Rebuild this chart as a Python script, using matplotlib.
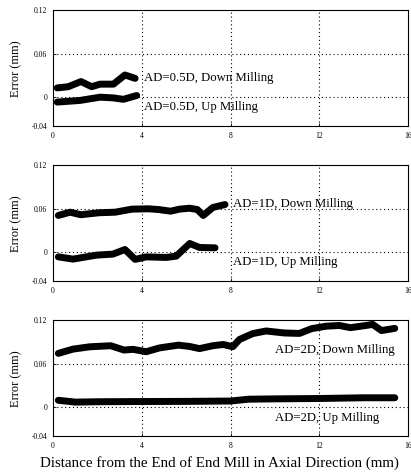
import matplotlib
matplotlib.use("Agg")
import matplotlib.pyplot as plt

# ---- Datos -------------------------------------------------------------------
x_05_down = [0.19, 0.69, 1.26, 1.74, 2.12, 2.72, 3.24, 3.7]
y_05_down = [0.0128, 0.0145, 0.0216, 0.0145, 0.018, 0.018, 0.0307, 0.026]
x_05_up = [0.19, 1.22, 2.12, 2.72, 3.17, 3.77]
y_05_up = [-0.0068, -0.0045, 0.0, -0.001, -0.003, 0.0023]

x_1_down = [0.24, 0.77, 1.25, 2.07, 2.8, 3.55, 4.3, 4.75, 5.3, 5.7, 6.15, 6.5, 6.77, 7.2, 7.75]
y_1_down = [0.0508, 0.0553, 0.0518, 0.0545, 0.0553, 0.0595, 0.06, 0.059, 0.0567,
            0.0595, 0.0608, 0.059, 0.0508, 0.0618, 0.0659]
x_1_up = [0.24, 0.9, 1.96, 2.7, 3.24, 3.7, 4.2, 5.1, 5.55, 6.16, 6.6, 7.3]
y_1_up = [-0.0065, -0.0096, -0.0041, -0.0027, 0.0037, -0.010, -0.0065, -0.0073,
          -0.0055, 0.012, 0.0065, 0.006]

x_2_down = [0.24, 0.9, 1.65, 2.6, 3.2, 3.6, 4.2, 4.8, 5.65, 6.15, 6.6, 7.2, 7.67, 8.1,
            8.4, 9.0, 9.6, 10.4, 11.1, 11.65, 12.3, 12.9, 13.4, 14.1, 14.4, 14.8, 15.4]
y_2_down = [0.0744, 0.0803, 0.0835, 0.085, 0.079, 0.080, 0.0767, 0.082, 0.0858, 0.084,
            0.081, 0.085, 0.0867, 0.0836, 0.0936, 0.1018, 0.1054, 0.1027, 0.102, 0.1086,
            0.112, 0.113, 0.110, 0.113, 0.1145, 0.106, 0.109]
x_2_up = [0.24, 1.0, 2.0, 4.0, 6.0, 8.0, 8.8, 10.0, 12.0, 14.0, 15.4]
y_2_up = [0.0095, 0.007, 0.0075, 0.0078, 0.008, 0.0085, 0.011, 0.0115, 0.012, 0.013, 0.013]

x_ticks = [0, 4, 8, 12, 16]
x_tick_labels = ["0", "4", "8", "12", "16"]
y_ticks = [-0.04, 0, 0.06, 0.12]
y_tick_labels = ["-0.04", "0", "0.06", "0.12"]

panels = [
    (x_05_down, y_05_down, x_05_up, y_05_up,
     "AD=0.5D, Down Milling", (4.1, 0.027), "AD=0.5D, Up Milling", (4.1, -0.014)),
    (x_1_down, y_1_down, x_1_up, y_1_up,
     "AD=1D, Down Milling", (8.1, 0.067), "AD=1D, Up Milling", (8.1, -0.014)),
    (x_2_down, y_2_down, x_2_up, y_2_up,
     "AD=2D, Down Milling", (10.0, 0.0795), "AD=2D, Up Milling", (10.0, -0.0145)),
]

# ---- Figura ------------------------------------------------------------------
plt.rcParams["font.family"] = ["Liberation Serif", "DejaVu Serif"]

fig = plt.figure(figsize=(4.11, 4.74), dpi=100)
bottoms = [0.734, 0.407, 0.080]
for bottom, (xd, yd, xu, yu, td, pd_, tu, pu) in zip(bottoms, panels):
    ax = fig.add_axes([0.129, bottom, 0.864, 0.244])
    ax.plot(xd, yd, color="black", lw=5, solid_capstyle="round", solid_joinstyle="round")
    ax.plot(xu, yu, color="black", lw=5, solid_capstyle="round", solid_joinstyle="round")
    ax.text(pd_[0], pd_[1], td, fontsize=9.2, va="center", ha="left")
    ax.text(pu[0], pu[1], tu, fontsize=9.2, va="center", ha="left")
    ax.set_xlim(0, 16)
    ax.set_ylim(-0.04, 0.12)
    ax.set_xticks(x_ticks)
    ax.set_xticklabels(x_tick_labels)
    ax.set_yticks(y_ticks)
    ax.set_yticklabels(y_tick_labels)
    ax.tick_params(direction="in", length=2, width=0.6, labelsize=5.5, pad=4)
    for g in [4, 8, 12]:
        ax.axvline(g, color="black", lw=0.8, ls=(0, (1, 2.5)))
    for g in [0, 0.06]:
        ax.axhline(g, color="black", lw=0.8, ls=(0, (1, 2.5)))
    for s in ax.spines.values():
        s.set_linewidth(0.8)
    ax.set_ylabel("Error (mm)", fontsize=9, labelpad=7)
    if bottom == bottoms[-1]:
        ax.set_xlabel("Distance from the End of End Mill in Axial Direction (mm)",
                      fontsize=10.8)
        ax.xaxis.set_label_coords(0.468, -0.17)

fig.savefig("out.png", dpi=100)
